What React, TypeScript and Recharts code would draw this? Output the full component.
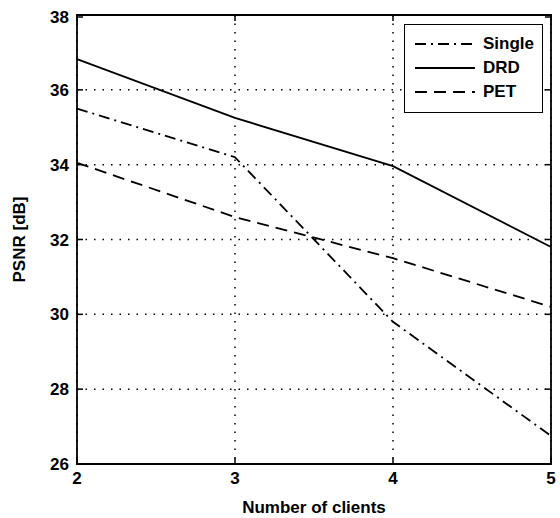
import { LineChart, Line, XAxis, YAxis, CartesianGrid, ReferenceArea } from 'recharts';

const clients = [2, 3, 4, 5];
const single = [35.5, 34.2, 29.8, 26.75];
const drd = [36.82, 35.25, 33.96, 31.8];
const pet = [34.05, 32.6, 31.5, 30.2];
const xTicks = [2, 3, 4, 5];
const yTicks = [26, 28, 30, 32, 34, 36, 38];

const series = [
    { key: 'single', name: 'Single', dash: '11 5 2 5' },
    { key: 'drd', name: 'DRD', dash: undefined },
    { key: 'pet', name: 'PET', dash: '12 7' },
];

const W = 552;
const H = 510;
const M = { top: 7, right: 9, left: 9, bottom: 14 };
const Y_W = 60;
const X_H = 40;
const PLOT_W = W - M.left - M.right - Y_W;
const PLOT_H = H - M.top - M.bottom - X_H;
const FONT = '"Liberation Sans", Arial, sans-serif';

const data = clients.map((c, i) => ({ c, single: single[i], drd: drd[i], pet: pet[i] }));

function YTick({ x, y, payload }: any) {
    const ax = x + 8;
    return (
        <g>
            <text x={x} y={y} dy="0.36em" textAnchor="end" fontFamily={FONT} fontSize={17} fontWeight="bold" fill="#000">
                {payload.value}
            </text>
            <line x1={ax} x2={ax + 6} y1={y} y2={y} stroke="#000" strokeWidth={1.5} />
            <line x1={ax + PLOT_W - 6} x2={ax + PLOT_W} y1={y} y2={y} stroke="#000" strokeWidth={1.5} />
        </g>
    );
}

function XTick({ x, y, payload }: any) {
    const ay = y - 6;
    return (
        <g>
            <text x={x} y={y} dy="0.85em" textAnchor="middle" fontFamily={FONT} fontSize={17} fontWeight="bold" fill="#000">
                {payload.value}
            </text>
            <line x1={x} x2={x} y1={ay} y2={ay - 6} stroke="#000" strokeWidth={1.5} />
            <line x1={x} x2={x} y1={ay - PLOT_H} y2={ay - PLOT_H + 6} stroke="#000" strokeWidth={1.5} />
        </g>
    );
}

function LegendBox() {
    return (
        <div
            style={{
                position: 'absolute',
                left: 396,
                top: 16,
                border: '1.5px solid #000',
                background: '#fff',
                width: 139,
                height: 89,
                boxSizing: 'border-box',
                padding: '7px 0 0 10px',
                fontFamily: FONT,
                fontSize: 17,
                fontWeight: 'bold',
            }}
        >
            {series.map((s) => (
                <div key={s.key} style={{ display: 'flex', alignItems: 'center', height: 24 }}>
                    <svg width={62} height={10} style={{ marginRight: 6 }}>
                        <line x1={0} x2={60} y1={5} y2={5} stroke="#000" strokeWidth={1.8} strokeDasharray={s.dash} />
                    </svg>
                    <span>{s.name}</span>
                </div>
            ))}
        </div>
    );
}

export default function App() {
    return (
        <div style={{ position: 'relative', width: W, height: H, margin: '8px 0 0 8px', background: '#fff' }}>
            <style>{'body { margin: 0; } .recharts-wrapper, svg.recharts-surface { overflow: visible !important; }'}</style>
            <LineChart width={W} height={H} data={data} margin={M} style={{ overflow: 'visible' }}>
                <CartesianGrid stroke="#000" strokeDasharray="1.5 7" strokeWidth={1.5} />
                <XAxis
                    dataKey="c"
                    type="number"
                    domain={[2, 5]}
                    ticks={xTicks}
                    height={X_H}
                    tickSize={0}
                    tickMargin={6}
                    tickLine={false}
                    axisLine={false}
                    tick={<XTick />}
                    label={{ value: 'Number of clients', position: 'insideBottom', offset: -9, fontFamily: FONT, fontSize: 17, fontWeight: 'bold', fill: '#000' }}
                />
                <YAxis
                    type="number"
                    domain={[26, 38]}
                    ticks={yTicks}
                    width={Y_W}
                    tickSize={0}
                    tickMargin={8}
                    tickLine={false}
                    axisLine={false}
                    tick={<YTick />}
                    label={{ value: 'PSNR [dB]', angle: -90, position: 'insideLeft', offset: 2, fontFamily: FONT, fontSize: 17, fontWeight: 'bold', fill: '#000', style: { textAnchor: 'middle' } }}
                />
                <ReferenceArea x1={2} x2={5} y1={26} y2={38} fill="none" stroke="#000" strokeWidth={1.8} ifOverflow="visible" />
                {series.map((s) => (
                    <Line
                        key={s.key}
                        type="linear"
                        dataKey={s.key}
                        name={s.name}
                        stroke="#000"
                        strokeWidth={1.8}
                        strokeDasharray={s.dash}
                        dot={false}
                        activeDot={false}
                        isAnimationActive={false}
                    />
                ))}
            </LineChart>
            <LegendBox />
        </div>
    );
}
